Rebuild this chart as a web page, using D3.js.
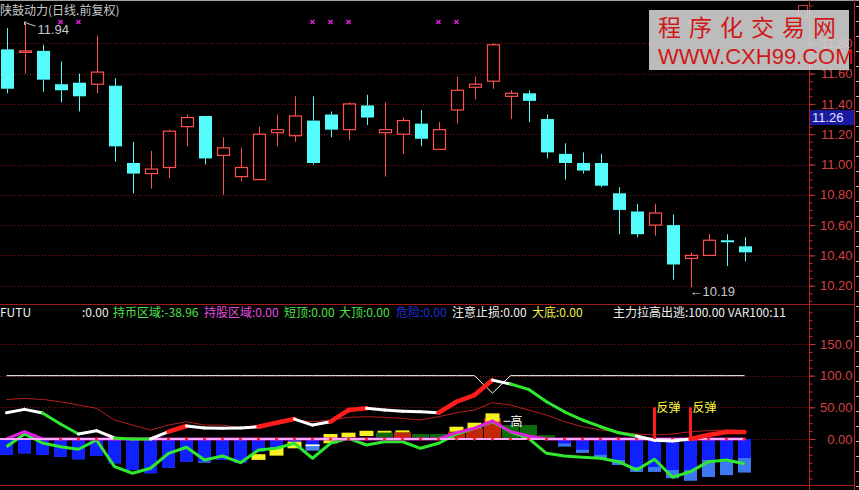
<!DOCTYPE html>
<html><head><meta charset="utf-8">
<script src="https://cdn.jsdelivr.net/npm/d3@7"></script>
<style>
html,body{margin:0;padding:0;background:#000;}
svg{display:block;}
text{font-family:"Liberation Sans","DejaVu Sans",sans-serif;}
.cjk{font-family:"Noto Sans CJK SC","Liberation Sans",sans-serif;}
</style></head><body>
<svg id="c" width="859" height="490"></svg>
<script>
// ---------- data ----------
const title = "陕鼓动力(日线.前复权)";
const openP  = [11.76,11.74,11.75,11.53,11.54,11.53,11.52,11.01,10.94,10.98,11.25,11.32,11.06,10.92,10.90,11.21,11.19,11.29,11.33,11.23,11.39,11.21,11.20,11.27,11.10,11.36,11.51,11.55,11.45,11.47,11.30,11.07,11.01,11.01,10.81,10.69,10.60,10.60,10.38,10.40,10.50,10.46];
const highP  = [11.90,11.94,11.79,11.68,11.60,11.85,11.57,11.15,11.09,11.23,11.33,11.32,11.18,11.11,11.25,11.33,11.45,11.45,11.35,11.41,11.46,11.41,11.31,11.36,11.28,11.58,11.58,11.80,11.49,11.49,11.33,11.14,11.08,11.07,10.85,10.74,10.74,10.67,10.42,10.54,10.54,10.52];
const lowP   = [11.47,11.60,11.48,11.41,11.35,11.47,11.02,10.81,10.84,10.91,11.12,11.00,10.80,10.89,10.90,11.12,11.15,11.00,11.18,11.16,11.26,10.92,11.07,11.12,11.10,11.27,11.43,11.50,11.30,11.28,11.04,10.90,10.94,10.85,10.54,10.52,10.53,10.24,10.19,10.40,10.33,10.36];
const closeP = [11.50,11.75,11.56,11.49,11.45,11.61,11.12,10.94,10.97,11.22,11.31,11.04,11.11,10.98,11.20,11.23,11.32,11.01,11.23,11.40,11.31,11.23,11.29,11.17,11.23,11.49,11.53,11.79,11.47,11.42,11.08,11.01,10.96,10.86,10.70,10.54,10.68,10.34,10.40,10.50,10.49,10.42];
const priceTicks = [10.2,10.4,10.6,10.8,11.0,11.2,11.4,11.6,11.8];
const markerIdx = [3,4,17,18,19,24,25,37,38];
const markerLevel = 11.94;
const hiLabel = "11.94", loLabel = "←10.19";
const hiIdx = 1, loIdx = 38;
const lastPriceLabel = "11.26", lastPriceLevel = 11.26;

// indicator panel
const indTicks = [0,50,100,150];
const indTickLabels = ["0.00","50.00","100.0","150.0"];
const mainLine = [41.5,46.8,41,23.7,7.9,13.1,1.6,0,0,11.5,20.5,17.4,17,17.4,19.4,25.7,31.5,22,27.3,45.7,48.4,45.7,44,43,41.5,58.8,69.4,93,86.8,78.4,58.8,43,30,19.4,9.9,4.7,-2,-3,0,6.3,11,11];
const mainState = ['flat','flat','flat','down','down','flat','flat','down','down','flat','up','flat','flat','flat','flat','up','up','flat','flat','up','up','flat','flat','flat','flat','up','up','up','flat','down','down','down','down','down','down','down','flat','flat','flat','up','up','up'];
const thinLine = [62.5,64,62.5,58.8,53.6,48.4,30,22,14.2,22,27.3,22,22,17.8,22,25.7,30,27.3,30,34.2,35.2,34.2,32.6,30,35.2,41.5,45.7,57.3,53.6,45.7,37.9,27.3,19.4,14.2,11.5,7.9,6.3,7.9,11.5,13.1,14.2,13.1];
const cashZone = [-12.1,7.9,-6.3,-12.1,-16.2,-1.6,-43.7,-54.1,-46.2,-22.6,-13.1,-33.1,-26.8,-37.4,-17.4,-14.7,-6.8,-30.4,-6.8,1.1,-9.5,-4.3,-4.3,-14.7,-6.8,7.9,16.9,27.3,11.5,1.1,-22.6,-26.8,-28.9,-30.4,-35.8,-48.9,-32,-60.4,-51.6,-35.8,-33.1,-38.96];
const holdZone = [0,11.5,0,0,0,0,0,0,0,0,0,0,0,0,0,0,0,0,0,0,0,0,0,0,0,10,17,28.4,11.5,4.7,0,0,0,0,0,0,0,0,0,0,0,0];
const topLine = [100,100,100,100,100,100,100,100,100,100,100,100,100,100,100,100,100,100,100,100,100,100,100,100,100,100,100,72.5,100,100,100,100,100,100,100,100,100,100,100,100,100,100];
const blueBar = [-25.2,-22.6,-25.2,-27.9,-32,-26.8,-38.3,-48.9,-54.1,-45.2,-35.8,-35.5,-33.1,-37.4,-20,-14,-4.3,-8,0,0,0,0,0,0,0,0,0,0,0,0,0,-7,-17,-25,-33,-44,-44,-49,-49,-33,-36,-30];
const lightBar = [-25.2,-22.6,-25.2,-27.9,-32,-26.8,-38.3,-48.9,-54.1,-45.2,-35.8,-37.4,-33.1,-37.4,-20,-14,-4.3,-8,0,0,0,0,0,0,0,0,0,0,0,0,0,-12,-22,-30,-41,-52,-52,-62,-66,-60,-57,-53];
const yellowBoxIdx = [14,15,16,18,19,20,21,22,25,26,27];
const yellowBoxLo  = [-33,-26.3,-14.7,-6.8,2.7,4.7,10,10.5,11.5,17,27.3];
const yellowBoxHi  = [-24,-14,-4.3,7.9,10,13,13,13.6,19.4,25.7,40.5];
const weakBoxIdx = [17], weakBoxLo = [-18.5], weakBoxHi = [-8.4];
const baseIdx   = [21,22,23,24,25,26,27,28,29,30];
const baseVal   = [10,10.5,8,8,11.5,17,33,22,22,6];
const baseKind  = ['green','red','green','green','red','red','red','green','green','green'];
const reboundIdx = [36,38], reboundVal = 50, reboundLabel = "反弹";
const highTagIdx = 28, highTagVal = 28, highTagLabel = "高";
const legend = [
  {t:"FUTU", c:"#f0f0f0", x:0},
  {t:":0.00", c:"#f0f0f0", x:82},
  {t:"持币区域:-38.96", c:"#4ee04e", x:113},
  {t:"持股区域:0.00", c:"#e050e0", x:204},
  {t:"短顶:0.00", c:"#4ee04e", x:284},
  {t:"大顶:0.00", c:"#4ee04e", x:339},
  {t:"危险:0.00", c:"#2030d8", x:396},
  {t:"注意止损:0.00", c:"#f0f0f0", x:452},
  {t:"大底:0.00", c:"#f0f050", x:532},
  {t:"主力拉高出逃:100.00 VAR100:11", c:"#f0f0f0", x:613}
];

// ---------- scales ----------
const svg = d3.select("#c");
const N = openP.length;
const x = d3.scaleBand().domain(d3.range(45)).range([-2.5, 807.5]);
const cx = i => x(i) + x.bandwidth()/2;
const bodyW = 13;
const yP = d3.scaleLinear().domain([10.2, 11.8]).range([285.7, 43.3]);
const yI = d3.scaleLinear().domain([0, 150]).range([439, 344]);
const AX = 809.5, PLOT_R = 809;
const RED_AX = "#c83232", GRID = "#8a1010";

svg.append("rect").attr("width",859).attr("height",490).attr("fill","#000");
svg.append("line").attr("x1",0).attr("x2",859).attr("y1",0.5).attr("y2",0.5).attr("stroke","#a0a0a0");

svg.append("g").selectAll("line").data(priceTicks).join("line")
  .attr("x1",0).attr("x2",PLOT_R).attr("y1",d=>Math.round(yP(d))+0.5).attr("y2",d=>Math.round(yP(d))+0.5)
  .attr("stroke",GRID).attr("stroke-dasharray","1,2");
svg.append("g").selectAll("line").data(indTicks).join("line")
  .attr("x1",0).attr("x2",PLOT_R).attr("y1",d=>Math.round(yI(d))+0.5).attr("y2",d=>Math.round(yI(d))+0.5)
  .attr("stroke",GRID).attr("stroke-dasharray","1,2");

// candles
const cg = svg.append("g");
d3.range(N).forEach(i=>{
  const up = closeP[i] >= openP[i];
  const col = up ? "#ff5050" : "#54fcfc";
  const c = Math.round(cx(i)) + 0.5;
  const top = yP(Math.max(openP[i],closeP[i])), bot = yP(Math.min(openP[i],closeP[i]));
  cg.append("line").attr("x1",c).attr("x2",c).attr("y1",yP(highP[i])).attr("y2",top).attr("stroke",col);
  cg.append("line").attr("x1",c).attr("x2",c).attr("y1",bot).attr("y2",yP(lowP[i])).attr("stroke",col);
  if (up) {
    cg.append("rect").attr("x",c-6).attr("y",top).attr("width",bodyW-1).attr("height",Math.max(bot-top,1.5))
      .attr("fill","none").attr("stroke",col).attr("stroke-width",1.2);
  } else {
    cg.append("rect").attr("x",c-6.5).attr("y",top).attr("width",bodyW).attr("height",Math.max(bot-top,2))
      .attr("fill",col);
  }
});

svg.append("g").selectAll("path").data(markerIdx).join("path")
  .attr("d",i=>{const c=cx(i), y=yP(markerLevel); return `M${c-2},${y-2}L${c+2},${y+2}M${c+2},${y-2}L${c-2},${y+2}`;})
  .attr("stroke","#e020e0").attr("stroke-width",1.5);

{
  const c = cx(hiIdx), y = yP(highP[hiIdx]);
  svg.append("path").attr("d",`M${c},${y+3}L${c},${y}L${c+2},${y}M${c+2},${y+1}L${c+11},${y+4}`)
    .attr("stroke","#c8c8c8").attr("fill","none");
  svg.append("text").attr("x",c+13).attr("y",y+12).attr("fill","#c8c8c8").attr("font-size",13).text(hiLabel);
  svg.append("text").attr("x",cx(loIdx)-1).attr("y",yP(lowP[loIdx])+9).attr("fill","#c8c8c8").attr("font-size",13).text(loLabel);
}

svg.append("text").attr("class","cjk").attr("x",0).attr("y",15).attr("fill","#c8c8c8").attr("font-size",12).text(title);

// ---------- indicator panel ----------
const ig = svg.append("g");
ig.selectAll("rect.lb").data(d3.range(N).filter(i=>lightBar[i]<0)).join("rect")
  .attr("x",i=>cx(i)-6.5).attr("width",bodyW).attr("y",yI(0)).attr("height",i=>yI(lightBar[i])-yI(0)).attr("fill","#3c78f0");
ig.selectAll("rect.bb").data(d3.range(N).filter(i=>blueBar[i]<0)).join("rect")
  .attr("x",i=>cx(i)-6.5).attr("width",bodyW).attr("y",yI(0)).attr("height",i=>yI(blueBar[i])-yI(0)).attr("fill","#1020ff");
const baseCol = d3.scaleOrdinal().domain(['green','red']).range(['#0b6a0b','#c02808']);
ig.selectAll("rect.base").data(baseIdx).join("rect")
  .attr("x",(d,k)=>cx(d)-8.5).attr("width",17).attr("y",(d,k)=>yI(baseVal[k])).attr("height",(d,k)=>yI(0)-yI(baseVal[k]))
  .attr("fill",(d,k)=>baseCol(baseKind[k]));
ig.selectAll("rect.yb").data(yellowBoxIdx).join("rect")
  .attr("x",d=>cx(d)-7).attr("width",14).attr("y",(d,k)=>yI(yellowBoxHi[k])).attr("height",(d,k)=>yI(yellowBoxLo[k])-yI(yellowBoxHi[k]))
  .attr("fill","#f8f020");
ig.selectAll("rect.wb").data(weakBoxIdx).join("rect")
  .attr("x",d=>cx(d)-7).attr("width",14).attr("y",(d,k)=>yI(weakBoxHi[k])).attr("height",(d,k)=>yI(weakBoxLo[k])-yI(weakBoxHi[k]))
  .attr("fill","#4c82f0");
ig.selectAll("line.wb").data(weakBoxIdx).join("line")
  .attr("x1",d=>cx(d)-7).attr("x2",d=>cx(d)+7).attr("y1",(d,k)=>yI(weakBoxHi[k])+1).attr("y2",(d,k)=>yI(weakBoxHi[k])+1)
  .attr("stroke","#ffffff").attr("stroke-width",1.5);

const lineGen = arr => d3.line().x((d,i)=>cx(i)).y(d=>yI(d))(arr);
ig.append("path").attr("d",lineGen(thinLine)).attr("fill","none").attr("stroke","#b42020").attr("stroke-width",1);
ig.append("path").attr("d",lineGen(topLine)).attr("fill","none").attr("stroke","#ffffff").attr("stroke-width",1);
ig.append("path").attr("d",lineGen(cashZone)).attr("fill","none").attr("stroke","#30e830").attr("stroke-width",3).attr("stroke-linejoin","round");
ig.append("path").attr("d",lineGen(holdZone)).attr("fill","none").attr("stroke","#e020e0").attr("stroke-width",3);
ig.append("line").attr("x1",0).attr("x2",cx(N-1)+1).attr("y1",yI(0)).attr("y2",yI(0)).attr("stroke","#ffa8ff").attr("stroke-width",2);
ig.selectAll("circle").data(d3.range(3,N)).join("circle").attr("cx",i=>cx(i)).attr("cy",yI(0)).attr("r",1.6).attr("fill","#ff2020");
const stateCol = d3.scaleOrdinal().domain(['flat','up','down']).range(['#ffffff','#ff1c1c','#30e830']);
const stateW = d3.scaleOrdinal().domain(['flat','up','down']).range([3,4.5,3]);
d3.range(1,N).forEach(i=>{
  ig.append("line").attr("x1",cx(i-1)).attr("y1",yI(mainLine[i-1])).attr("x2",cx(i)).attr("y2",yI(mainLine[i]))
    .attr("stroke",stateCol(mainState[i])).attr("stroke-width",stateW(mainState[i])).attr("stroke-linecap","round");
});
reboundIdx.forEach(i=>{
  ig.append("line").attr("x1",cx(i)).attr("x2",cx(i)).attr("y1",yI(0)).attr("y2",yI(reboundVal)).attr("stroke","#ff1c1c").attr("stroke-width",3);
  ig.append("text").attr("class","cjk").attr("x",cx(i)+2).attr("y",yI(reboundVal)+5).attr("fill","#ffff40").attr("font-size",12).text(reboundLabel);
});
ig.append("line").attr("x1",cx(highTagIdx)-7).attr("x2",cx(highTagIdx)).attr("y1",yI(highTagVal)).attr("y2",yI(highTagVal)).attr("stroke","#ffffff");
ig.append("text").attr("class","cjk").attr("x",cx(highTagIdx)).attr("y",yI(highTagVal)+5).attr("fill","#ffffff").attr("font-size",12).text(highTagLabel);

svg.append("g").selectAll("text").data(legend).join("text").attr("class","cjk")
  .attr("x",d=>d.x).attr("y",317).attr("fill",d=>d.c).attr("font-size",12).text(d=>d.t);

// ---------- axes ----------
svg.append("line").attr("x1",0).attr("x2",855).attr("y1",304.5).attr("y2",304.5).attr("stroke","#a01c1c");
svg.append("line").attr("x1",0).attr("x2",855).attr("y1",485.5).attr("y2",485.5).attr("stroke","#a01c1c");
svg.append("line").attr("x1",AX).attr("x2",AX).attr("y1",0).attr("y2",490).attr("stroke","#b02020");
svg.append("line").attr("x1",854.5).attr("x2",854.5).attr("y1",0).attr("y2",490).attr("stroke","#b02020");
svg.append("g").selectAll("line").data(d3.range(6, 490, 15)).join("line")
  .attr("x1",856).attr("x2",859).attr("y1",d=>d+0.5).attr("y2",d=>d+0.5).attr("stroke","#c0c0c0");

function styleAxis(g){
  g.select(".domain").remove();
  g.selectAll(".tick line").attr("stroke",RED_AX);
  g.selectAll(".tick text").attr("x",43).attr("text-anchor","end").attr("fill","#d84040").attr("font-size",13)
    .attr("font-family","Liberation Sans, DejaVu Sans, sans-serif");
}
const minorP = d3.range(10.1, 12.06, 0.05);
svg.append("g").attr("transform",`translate(${AX},0)`).call(d3.axisRight(yP).tickValues(minorP).tickFormat("").tickSize(3)).call(styleAxis);
svg.append("g").attr("transform",`translate(${AX},0)`).call(d3.axisRight(yP).tickValues(priceTicks).tickFormat(d3.format(".2f")).tickSize(6)).call(styleAxis);
const minorI = d3.range(-62.5, 201, 12.5);
svg.append("g").attr("transform",`translate(${AX},0)`).call(d3.axisRight(yI).tickValues(minorI).tickFormat("").tickSize(3)).call(styleAxis);
svg.append("g").attr("transform",`translate(${AX},0)`).call(d3.axisRight(yI).tickValues(indTicks).tickFormat((d,i)=>indTickLabels[i]).tickSize(6)).call(styleAxis);

svg.append("rect").attr("x",810).attr("y",yP(lastPriceLevel)-15).attr("width",44).attr("height",15).attr("fill","#1a1aa0");
svg.append("text").attr("x",812).attr("y",yP(lastPriceLevel)-3).attr("fill","#e0e0ff").attr("font-size",13).text(lastPriceLabel);
svg.append("rect").attr("x",798.5).attr("y",5.5).attr("width",9).attr("height",12).attr("fill","none").attr("stroke","#c04040");

// watermark
const wm = svg.append("g");
wm.append("rect").attr("x",649).attr("y",10).attr("width",200).attr("height",60).attr("fill","#d6d6d6").attr("opacity",0.88);
wm.append("text").attr("class","cjk").attr("x",658).attr("y",36).attr("fill","#d01818").attr("font-size",23)
  .attr("letter-spacing",8).text("程序化交易网");
wm.append("text").attr("x",658).attr("y",64).attr("fill","#d01818").attr("font-size",22)
  .text("WWW.CXH99.COM");
</script>
</body></html>
